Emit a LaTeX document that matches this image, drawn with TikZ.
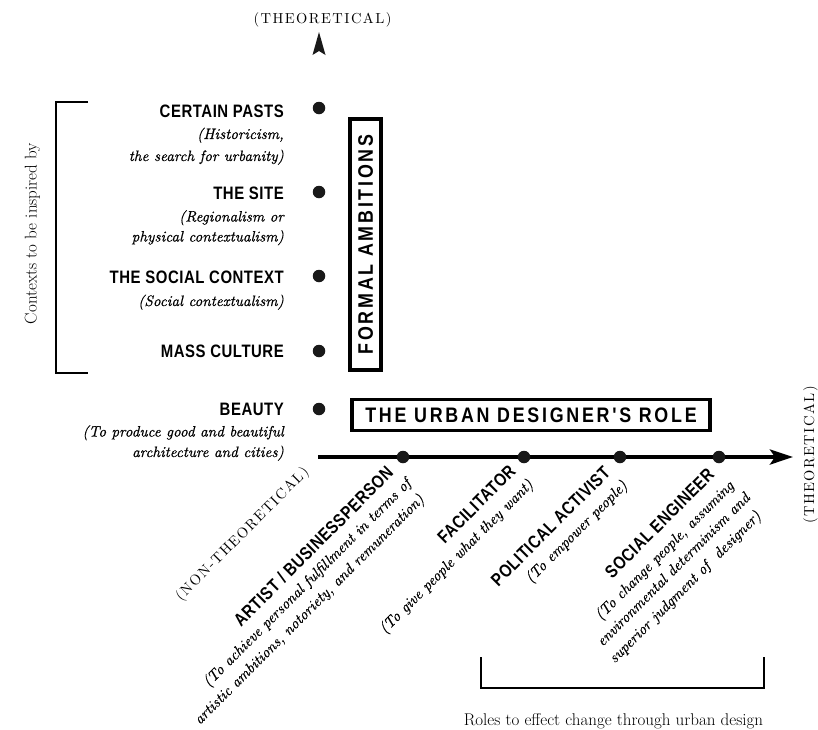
\documentclass[tikz,border=0pt]{standalone}
\usepackage{fontspec}
\newfontfamily\ttlfont[FakeStretch=0.83,LetterSpace=3]{Liberation Sans}
\newfontfamily\boxfont[FakeStretch=0.85,LetterSpace=13]{Liberation Sans}
\newfontfamily\serifcaps[Extension=.otf,LetterSpace=10]{lmroman10-regular}
\newfontfamily\itfont[Extension=.otf,FakeBold=0.6]{lmroman10-italic}
\usetikzlibrary{arrows.meta}
\tikzset{
  ttl/.style={inner sep=0pt, font=\ttlfont\bfseries\fontsize{18}{20}\selectfont},
  subtxt/.style={inner sep=0pt, font=\itfont\fontsize{15.1}{18}\selectfont},
  capserif/.style={inner sep=0pt, font=\serifcaps\fontsize{14.5}{17}\selectfont},
  serifup/.style={inner sep=0pt, font=\fontsize{17}{19}\selectfont},
  blob/.style={circle, fill=black!90, inner sep=0pt, minimum size=12.5pt},
  boxlbl/.style={draw, line width=3.5pt, inner sep=0pt, font=\boxfont\bfseries\fontsize{21}{24}\selectfont},
  bracket/.style={line width=1.5pt},
  axisline/.style={line width=4pt, -{Stealth[length=23pt,width=15pt,inset=5pt]}},
}
\begin{document}
\begin{tikzpicture}[x=1pt,y=-1pt]
\useasboundingbox (0,0) rectangle (818,729);

% vertical axis arrowhead and label
\coordinate (vt) at (319,32);
\fill[black!90] (vt) -- ++(6.5,23) -- ++(-6.5,-4) -- ++(-6.5,4) -- cycle;
\node[capserif, anchor=base] (topth) at (322.5,23) {(THEORETICAL)};

% left bracket
\coordinate (lb1) at (88,102);
\coordinate (lb2) at (56,102);
\coordinate (lb3) at (56,373);
\coordinate (lb4) at (88,373);
\draw[bracket] (lb1) -- (lb2) -- (lb3) -- (lb4);
\node[serifup, rotate=90, anchor=base] (ctx) at (36.5,233.5) {Contexts to be inspired by};

% left items
\node[ttl, anchor=base east] (t1) at (284,117) {CERTAIN PASTS};
\node[subtxt, anchor=base east] (t1a) at (284,139) {(Historicism,};
\node[subtxt, anchor=base east] (t1b) at (284,161) {the search for urbanity)};
\node[ttl, anchor=base east] (t2) at (284,199) {THE SITE};
\node[subtxt, anchor=base east] (t2a) at (284,221.5) {(Regionalism or};
\node[subtxt, anchor=base east] (t2b) at (284,241.5) {physical contextualism)};
\node[ttl, anchor=base east] (t3) at (284,283) {THE SOCIAL CONTEXT};
\node[subtxt, anchor=base east] (t3a) at (284,306) {(Social contextualism)};
\node[ttl, anchor=base east] (t4) at (284,357) {MASS CULTURE};
\node[ttl, anchor=base east] (t5) at (284,415) {BEAUTY};
\node[subtxt, anchor=base east] (t5a) at (284,436.5) {(To produce good and beautiful};
\node[subtxt, anchor=base east] (t5b) at (284,457) {architecture and cities)};

\node[blob] (p1) at (319,108) {};
\node[blob] (p2) at (319,192) {};
\node[blob] (p3) at (319,276) {};
\node[blob] (p4) at (319,351) {};
\node[blob] (p5) at (319,409) {};

% boxes
\node[boxlbl, rotate=90, minimum width=251pt, minimum height=31pt] (formal) at (365.7,244.5) {FORMAL AMBITIONS};
\node[boxlbl, minimum width=358pt, minimum height=31pt] (urban) at (531,415) {THE URBAN DESIGNER'S ROLE};

% horizontal axis
\coordinate (ax0) at (318,457);
\coordinate (ax1) at (793,457);
\draw[axisline] (ax0) -- (ax1);
\node[blob] (d1) at (403,457) {};
\node[blob] (d2) at (524,457) {};
\node[blob] (d3) at (620,457) {};
\node[blob] (d4) at (719,457) {};
\node[capserif, rotate=90, anchor=base] (rightth) at (814,455) {(THEORETICAL)};

% rotated labels
\begin{scope}[shift={(318,457)}, rotate=45, transform shape]
  \node[capserif, anchor=base east] (nonth) at (-17,5) {(NON-THEORETICAL)};
\end{scope}
\begin{scope}[shift={(403,457)}, rotate=45, transform shape]
  \node[ttl, anchor=base east] (r1) at (-18,6) {ARTIST / BUSINESSPERSON};
  \node[subtxt, anchor=base east] (r1a) at (-13,25.5) {(To achieve personal fulfillment in terms of};
  \node[subtxt, anchor=base east] (r1b) at (-15,46) {artistic ambitions, notoriety, and remuneration)};
\end{scope}
\begin{scope}[shift={(524,457)}, rotate=45, transform shape]
  \node[ttl, anchor=base east] (r2) at (-16,6) {FACILITATOR};
  \node[subtxt, anchor=base east] (r2a) at (-13,27) {(To give people what they want)};
\end{scope}
\begin{scope}[shift={(620,457)}, rotate=45, transform shape]
  \node[ttl, anchor=base east] (r3) at (-18,6) {POLITICAL ACTIVIST};
  \node[subtxt, anchor=base east] (r3a) at (-15,26.5) {(To empower people)};
\end{scope}
\begin{scope}[shift={(719,457)}, rotate=45, transform shape]
  \node[ttl, anchor=base east] (r4) at (-16,11) {SOCIAL ENGINEER};
  \node[subtxt, anchor=base east] (r4a) at (-10,32) {(To change people, assuming};
  \node[subtxt, anchor=base east] (r4b) at (-7,52) {environmental determinism and};
  \node[subtxt, anchor=base east] (r4c) at (-12,72.5) {superior judgment of\ \ designer)};
\end{scope}

% bottom bracket
\coordinate (bb1) at (481,657);
\coordinate (bb2) at (481,688);
\coordinate (bb3) at (764,688);
\coordinate (bb4) at (764,657);
\draw[bracket] (bb1) -- (bb2) -- (bb3) -- (bb4);
\node[serifup, anchor=base] (roles) at (613.5,725) {Roles to effect change through urban design};
\end{tikzpicture}
\end{document}
